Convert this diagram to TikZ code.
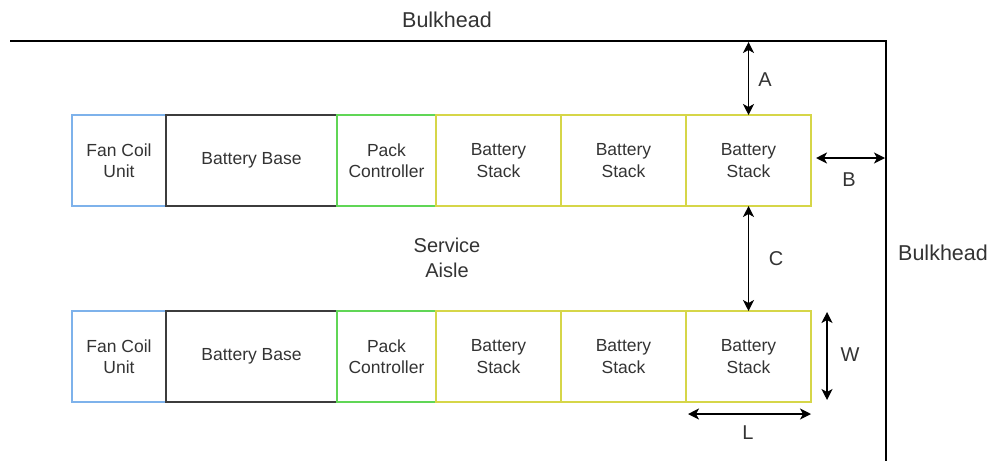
\documentclass[tikz,border=0pt]{standalone}
\usepackage{fontspec}
\setmainfont{Liberation Sans}
\usetikzlibrary{arrows.meta}
\definecolor{fcblue}{RGB}{126,178,235}
\definecolor{basegray}{RGB}{60,60,60}
\definecolor{pcgreen}{RGB}{96,214,86}
\definecolor{stkyellow}{RGB}{214,214,72}
\definecolor{txtgray}{RGB}{51,51,51}
\tikzset{
  unitbox/.style={draw, line width=1.3pt, inner sep=0pt, outer sep=0pt,
    minimum height=91pt, align=center, text=txtgray,
    font=\fontsize{17.5}{21.5}\selectfont},
  fcu/.style={unitbox, draw=fcblue, minimum width=94pt},
  bbase/.style={unitbox, draw=basegray, minimum width=171pt},
  pctl/.style={unitbox, draw=pcgreen, minimum width=99pt},
  stk/.style={unitbox, draw=stkyellow, minimum width=125pt},
  wall/.style={line width=1.4pt, black},
  dim/.style={line width=1.4pt, black, {Stealth[length=11pt,width=11pt,inset=3pt]}-{Stealth[length=11pt,width=11pt,inset=3pt]}},
  lbl/.style={text=txtgray, font=\fontsize{20}{25}\selectfont, align=center, inner sep=0pt},
  biglbl/.style={text=txtgray, font=\fontsize{21.5}{26}\selectfont, inner sep=0pt}
}
\begin{document}
\begin{tikzpicture}[x=1pt,y=-1pt]
\useasboundingbox (0,0) rectangle (992,461);
% bulkhead walls
\coordinate (wTL) at (10,41);
\coordinate (wTR) at (886,41);
\coordinate (wBR) at (886,461);
\draw[wall] (wTL) -- (wTR) -- (wBR);
\node[biglbl] (bhTop) at (447,20) {Bulkhead};
\node[biglbl] (bhRight) at (943,253) {Bulkhead};

% upper row of units
\node[fcu]   (fcuT) at (119,160.5) {Fan Coil\\Unit};
\node[bbase] (bbT)  at (251.5,160.5) {Battery Base};
\node[pctl]  (pcT)  at (386.5,160.5) {Pack\\Controller};
\node[stk]   (s1T)  at (498.5,160.5) {Battery\\Stack};
\node[stk]   (s2T)  at (623.5,160.5) {Battery\\Stack};
\node[stk]   (s3T)  at (748.5,160.5) {Battery\\Stack};

% lower row of units
\node[fcu]   (fcuB) at (119,356.5) {Fan Coil\\Unit};
\node[bbase] (bbB)  at (251.5,356.5) {Battery Base};
\node[pctl]  (pcB)  at (386.5,356.5) {Pack\\Controller};
\node[stk]   (s1B)  at (498.5,356.5) {Battery\\Stack};
\node[stk]   (s2B)  at (623.5,356.5) {Battery\\Stack};
\node[stk]   (s3B)  at (748.5,356.5) {Battery\\Stack};

\node[lbl] (aisle) at (447,258) {Service\\Aisle};

% clearance dimensions
\coordinate (aTop) at (748.5,42);
\draw[dim] (aTop) -- (s3T.north);
\node[lbl] (lA) at (765,80) {A};

\coordinate (bL) at (816,158);
\coordinate (bR) at (885,158);
\draw[dim] (bL) -- (bR);
\node[lbl] (lB) at (849,180) {B};

\draw[dim] (s3T.south) -- (s3B.north);
\node[lbl] (lC) at (776,259) {C};

% stack dimensions
\coordinate (wT) at (827,312);
\coordinate (wB) at (827,400);
\draw[dim] (wT) -- (wB);
\node[lbl] (lW) at (850,355) {W};

\coordinate (lLft) at (688,414);
\coordinate (lRgt) at (811,414);
\draw[dim] (lLft) -- (lRgt);
\node[lbl] (lL) at (748,433) {L};
\end{tikzpicture}
\end{document}
